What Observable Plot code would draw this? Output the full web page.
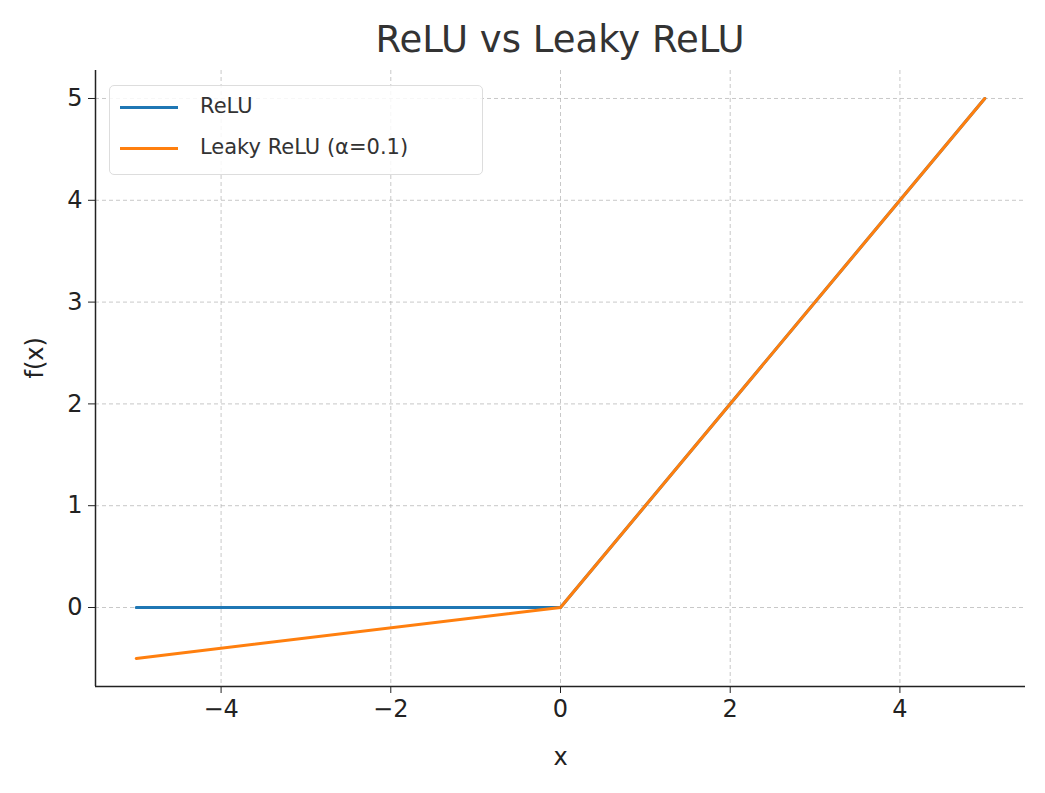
<!DOCTYPE html>
<html><head><meta charset="utf-8">
<script src="https://cdn.jsdelivr.net/npm/d3@7"></script>
<script src="https://cdn.jsdelivr.net/npm/@observablehq/plot@0.6"></script>
<style>
body{margin:0;background:#fff;font-family:"DejaVu Sans",sans-serif;}
#wrap{position:relative;width:1045px;}
#title{height:60px;line-height:80px;font-size:37px;color:#333;padding-left:95px;width:930px;text-align:center;}
#legend{position:absolute;left:109px;top:85px;width:374px;height:90px;border:1.5px solid #ddd;border-radius:5px;background:rgba(255,255,255,0.85);font-size:21px;color:#333;box-sizing:border-box;}
#legend div{position:absolute;left:10px;}
#legend span{display:inline-block;width:58px;height:3px;vertical-align:middle;margin-right:22px;}
#chart svg text{font-size:24px;}
</style></head>
<body>
<div id="wrap">
<div id="title">ReLU vs Leaky ReLU</div>
<div id="chart"></div>
<div id="legend">
<div style="top:8px"><span style="background:#1f77b4"></span>ReLU</div>
<div style="top:49px"><span style="background:#ff7f0e"></span>Leaky ReLU (α=0.1)</div>
</div>
</div>
<script>
const xs = [-5, 0, 5];
const relu = [0, 0, 5];
const leaky = [-0.5, 0, 5];
const xTicks = [-4, -2, 0, 2, 4];
const yTicks = [0, 1, 2, 3, 4, 5];

const rows = xs.flatMap((x, i) => [
  {x, y: relu[i], s: "ReLU"},
  {x, y: leaky[i], s: "Leaky"}
]);
const fmt = d => d < 0 ? "\u2212" + Math.abs(d) : String(d);

const chart = Plot.plot({
  width: 1045, height: 733,
  marginTop: 10, marginBottom: 107, marginLeft: 95, marginRight: 20,
  style: {fontFamily: "DejaVu Sans, sans-serif", fontSize: "24px", color: "#222", background: "#fff"},
  x: {domain: [-5.48, 5.48], label: null},
  y: {domain: [-0.776, 5.275], label: null},
  marks: [
    Plot.gridX(xTicks, {stroke: "#b0b0b0", strokeOpacity: 0.7, strokeDasharray: "4,3"}),
    Plot.gridY(yTicks, {stroke: "#b0b0b0", strokeOpacity: 0.7, strokeDasharray: "4,3"}),
    Plot.lineY(rows.filter(d => d.s === "ReLU"), {x: "x", y: "y", stroke: "#1f77b4", strokeWidth: 3}),
    Plot.lineY(rows.filter(d => d.s === "Leaky"), {x: "x", y: "y", stroke: "#ff7f0e", strokeWidth: 3}),
    Plot.axisX(xTicks, {tickSize: 7, tickPadding: 6, tickFormat: fmt, label: null}),
    Plot.axisY(yTicks, {tickSize: 7, tickPadding: 6, tickFormat: fmt, label: null}),
    Plot.ruleX([-5.48], {stroke: "#222", strokeWidth: 1.5}),
    Plot.ruleY([-0.776], {stroke: "#222", strokeWidth: 1.5}),
    Plot.text(["x"], {frameAnchor: "bottom", dy: 78}),
    Plot.text(["f(x)"], {frameAnchor: "left", dx: -60, rotate: -90})
  ]
});
document.getElementById("chart").append(chart);
</script>
</body></html>
